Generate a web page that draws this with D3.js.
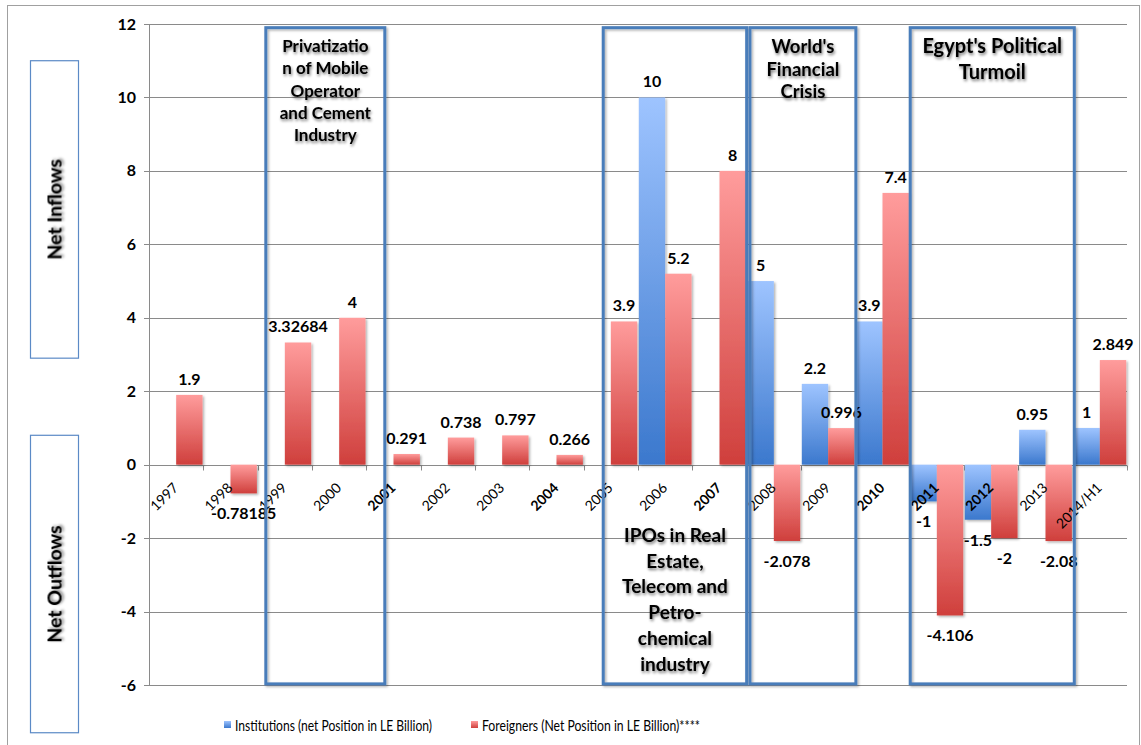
<!DOCTYPE html>
<html>
<head>
<meta charset="utf-8">
<script src="https://cdn.jsdelivr.net/npm/d3@7"></script>
<style>
  body { margin: 0; background: #fff; }
  svg { display: block; font-family: Lato, "Open Sans", sans-serif; }
</style>
</head>
<body>
<svg id="chart" width="1141" height="745"></svg>
<script>
// chart values
const years = ["1997","1998","1999","2000","2001","2002","2003","2004","2005",
               "2006","2007","2008","2009","2010","2011","2012","2013","2014/H1"];
const institutions = [null,null,null,null,null,null,null,null,null,
                      10,null,5,2.2,3.9,-1,-1.5,0.95,1];
const foreigners = [1.9,-0.78185,3.32684,4,0.291,0.738,0.797,0.266,3.9,
                    5.2,8,-2.078,0.996,7.4,-4.106,-2,-2.08,2.849];
const yTicks = [-6,-4,-2,0,2,4,6,8,10,12];
const boldYears = ["2001","2004","2007","2010","2011","2012"];
const seriesNames = ["Institutions (net Position in LE Billion)",
                     "Foreigners (Net Position in LE Billion)****"];

// annotated periods, start/end in category units
const periodText = [
  ["Privatizatio","n of Mobile","Operator","and Cement","Industry"],
  ["IPOs in Real","Estate,","Telecom and","Petro-","chemical","industry"],
  ["World's","Financial","Crisis"],
  ["Egypt's Political","Turmoil"]
];
const periodStart = [2.15, 8.36, 11.06, 14.01];
const periodEnd   = [4.34, 11.0, 13.01, 17.03];
const sideLabels = ["Net Inflows","Net Outflows"];
const sideTop = [11, 0.8];
const sideBottom = [2.9, -7.3];

// layout
const plotLeft = 149, plotRight = 1127, plotTop = 24, plotBottom = 685;
const svg = d3.select("#chart");

const x0 = d3.scaleBand().domain(years).range([plotLeft, plotRight]).padding(0);
const xi = d3.scaleLinear().domain([0, years.length]).range([plotLeft, plotRight]);
const x1 = d3.scaleBand().domain(["inst","for"]).range([0, x0.bandwidth()])
    .paddingInner(0).paddingOuter(0.03);
const y = d3.scaleLinear().domain([-6, 12]).range([plotBottom, plotTop]);

const defs = svg.append("defs");
function grad(id, top, bottom) {
  const g = defs.append("linearGradient").attr("id", id)
      .attr("x1", 0).attr("y1", 0).attr("x2", 0).attr("y2", 1);
  g.append("stop").attr("offset", "0%").attr("stop-color", top);
  g.append("stop").attr("offset", "100%").attr("stop-color", bottom);
}
grad("gBlue", "#9ec4ff", "#3b78cd");
grad("gRed", "#ff9c9c", "#cf3f3c");

const shadow = defs.append("filter").attr("id", "shadow")
    .attr("x", "-20%").attr("y", "-20%").attr("width", "150%").attr("height", "150%");
shadow.append("feDropShadow").attr("dx", 1.5).attr("dy", 1.5)
    .attr("stdDeviation", 1.2).attr("flood-color", "#000").attr("flood-opacity", 0.3);

const glow = defs.append("filter").attr("id", "glow")
    .attr("x", "-20%").attr("y", "-40%").attr("width", "140%").attr("height", "180%");
glow.append("feGaussianBlur").attr("in", "SourceAlpha").attr("stdDeviation", 1.6).attr("result", "b");
glow.append("feOffset").attr("in", "b").attr("dx", 1).attr("dy", 1.5).attr("result", "o");
glow.append("feComponentTransfer").attr("in", "o").attr("result", "s")
  .append("feFuncA").attr("type", "linear").attr("slope", 0.55);
const gm = glow.append("feMerge");
gm.append("feMergeNode").attr("in", "s");
gm.append("feMergeNode").attr("in", "SourceGraphic");

// outer frame
svg.append("rect").attr("x", 7.5).attr("y", 5.5).attr("width", 1132).attr("height", 745)
    .attr("fill", "none").attr("stroke", "#a0a0a0");

// gridlines
svg.append("g").selectAll("line").data(yTicks).join("line")
    .attr("x1", plotLeft - 5).attr("x2", plotRight)
    .attr("y1", d => Math.round(y(d)) + 0.5).attr("y2", d => Math.round(y(d)) + 0.5)
    .attr("stroke", "#8a8a8a").attr("stroke-width", 1);

// y axis line
svg.append("line").attr("x1", plotLeft + 0.5).attr("x2", plotLeft + 0.5)
    .attr("y1", plotTop).attr("y2", plotBottom)
    .attr("stroke", "#8a8a8a");

// y tick labels
svg.append("g").selectAll("text").data(yTicks).join("text")
    .attr("x", 136).attr("y", d => y(d) + 5.5)
    .attr("text-anchor", "end").attr("font-size", 16).attr("font-weight", "bold")
    .attr("fill", "#000").text(d => d);

// x ticks on zero line
const y0 = Math.round(y(0)) + 0.5;
svg.append("g").selectAll("line").data(d3.range(years.length + 1)).join("line")
    .attr("x1", d => Math.round(xi(d)) + 0.5).attr("x2", d => Math.round(xi(d)) + 0.5)
    .attr("y1", y0).attr("y2", y0 + 5).attr("stroke", "#8a8a8a");

// bars
const rows = years.map((yr, i) => ({ yr, inst: institutions[i], for: foreigners[i] }));
const cells = [];
rows.forEach(r => {
  if (r.inst !== null) cells.push({ yr: r.yr, key: "inst", v: r.inst });
  if (r.for !== null) cells.push({ yr: r.yr, key: "for", v: r.for });
});

svg.append("g").selectAll("rect").data(cells).join("rect")
    .attr("x", d => x0(d.yr) + x1(d.key))
    .attr("width", x1.bandwidth())
    .attr("y", d => y(Math.max(0, d.v)))
    .attr("height", d => Math.abs(y(d.v) - y(0)))
    .attr("fill", d => d.key === "inst" ? "url(#gBlue)" : "url(#gRed)")
    .attr("filter", "url(#shadow)");

// x labels (rotated)
svg.append("g").selectAll("text").data(years).join("text")
    .attr("transform", d => `translate(${x0(d) + x0.bandwidth() / 2 + 3},${y(0) + 24}) rotate(-45)`)
    .attr("text-anchor", "end").attr("font-size", 14)
    .attr("font-weight", d => boldYears.includes(d) ? "bold" : "normal")
    .attr("fill", "#000").text(d => d);

// value labels
svg.append("g").selectAll("text").data(cells).join("text")
    .attr("x", d => x0(d.yr) + x1(d.key) + x1.bandwidth() / 2)
    .attr("y", d => d.v >= 0 ? y(d.v) - 10 : y(d.v) + 26)
    .attr("text-anchor", "middle").attr("font-size", 16).attr("font-weight", "bold")
    .attr("fill", "#000").text(d => String(d.v));

// period boxes
const periods = periodText.map((lines, i) => ({ lines, s: periodStart[i], e: periodEnd[i] }));
const pTop = y(11.9), pBot = y(-5.97);
svg.append("g").selectAll("rect").data(periods).join("rect")
    .attr("x", d => xi(d.s)).attr("y", pTop)
    .attr("width", d => xi(d.e) - xi(d.s)).attr("height", pBot - pTop)
    .attr("fill", "none").attr("stroke", "#4a7dba").attr("stroke-width", 3)
    .attr("filter", "url(#shadow)");

// period texts
const pFont = [17, 19, 18.5, 20];
const pLine = [22.3, 25.8, 22.5, 26];
const pFirst = [y(11.24), y(-2.1), y(11.21), y(11.21)];
periods.forEach((p, i) => {
  const cx = (xi(p.s) + xi(p.e)) / 2;
  svg.append("g").attr("filter", "url(#glow)").selectAll("text").data(p.lines).join("text")
      .attr("x", cx).attr("y", (d, k) => pFirst[i] + k * pLine[i])
      .attr("text-anchor", "middle").attr("font-size", pFont[i]).attr("font-weight", "bold")
      .attr("fill", "#000").text(d => d);
});

// side boxes
sideLabels.forEach((lab, i) => {
  const t = y(sideTop[i]), b = y(sideBottom[i]);
  svg.append("rect").attr("x", 30.5).attr("y", t).attr("width", 48).attr("height", b - t)
      .attr("fill", "none").attr("stroke", "#5b8ac6").attr("stroke-width", 1.2);
  svg.append("text").attr("filter", "url(#glow)")
      .attr("transform", `translate(${61.5},${(t + b) / 2}) rotate(-90)`)
      .attr("text-anchor", "middle").attr("font-size", 19.5).attr("font-weight", "bold")
      .attr("fill", "#000").text(lab);
});

// legend
const legendX = [224, 471];
const legendW = [197, 218];
const legend = svg.append("g").selectAll("g").data(seriesNames).join("g")
    .attr("transform", (d, i) => `translate(${legendX[i]},721)`);
legend.append("rect").attr("width", 7).attr("height", 7)
    .attr("fill", (d, i) => i === 0 ? "url(#gBlue)" : "url(#gRed)");
legend.append("text").attr("x", 11).attr("y", 9.5).attr("font-size", 15.5)
    .attr("textLength", (d, i) => legendW[i]).attr("lengthAdjust", "spacingAndGlyphs")
    .attr("fill", "#000").text(d => d);
</script>
</body>
</html>
